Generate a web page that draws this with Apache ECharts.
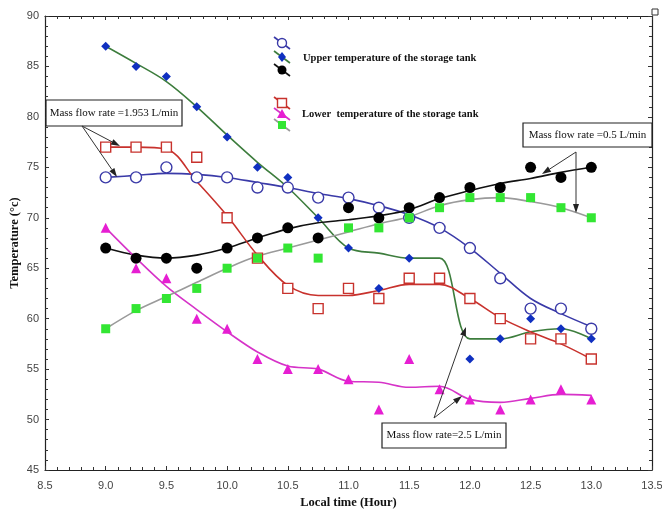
<!DOCTYPE html>
<html>
<head>
<meta charset="utf-8">
<script src="https://cdn.jsdelivr.net/npm/echarts@6/dist/echarts.min.js"></script>
<style>
  html, body { margin: 0; padding: 0; background: #fff; }
  #chart { width: 662px; height: 511px; }
</style>
</head>
<body>
<div id="chart"></div>
<script>
// local time (hour)
const times = [9.0, 9.25, 9.5, 9.75, 10.0, 10.25, 10.5, 10.75, 11.0, 11.25, 11.5, 11.75, 12.0, 12.25, 12.5, 12.75, 13.0];

// upper temperature of the storage tank
const upper1953 = [74, 74, 75, 74, 74, 73, 73, 72, 72, 71, 70, 69, 67, 64, 61, 61, 59];
const upper1953Fit = [74, 74.2, 74.4, 74.3, 74, 73.5, 73, 72.4, 71.9, 71.2, 70.3, 69, 67, 64.5, 62, 60.5, 59.2];
const upper25 = [87, 85, 84, 81, 78, 75, 74, 70, 67, 63, 66, 64, 56, 58, 60, 59, 58];
const upper25Fit = [87, 85.3, 83.5, 81, 78.2, 75.5, 73, 70, 67, 66.5, 66, 66, 58, 58, 58.7, 59, 58];
const upper05 = [67, 66, 66, 65, 67, 68, 69, 68, 71, 70, 71, 72, 73, 73, 75, 74, 75];
const upper05Fit = [67, 66.3, 66, 66.3, 67, 68, 68.9, 69.5, 69.8, 70.2, 70.8, 71.9, 72.7, 73.4, 73.9, 74.5, 75];

// lower temperature of the storage tank
const lower1953 = [77, 77, 77, 76, 70, 66, 63, 61, 63, 62, 64, 64, 62, 60, 58, 58, 56];
const lower1953Fit = [77, 77, 76.8, 73.6, 70.2, 66.3, 63.3, 62.3, 62.3, 62.8, 63.4, 63.4, 62, 60.1, 58.7, 57.5, 56];
const lower25 = [69, 65, 64, 60, 59, 56, 55, 55, 54, 51, 56, 53, 52, 51, 52, 53, 52];
const lower25Fit = [69, 66, 63.2, 60.9, 58.7, 56.7, 55.3, 55, 53.8, 53.7, 53.2, 53.3, 52, 51.7, 52.1, 52.5, 52.4];
const lower05 = [59, 61, 62, 63, 65, 66, 67, 66, 69, 69, 70, 71, 72, 72, 72, 71, 70];
const lower05Fit = [59, 60.8, 62.2, 63.6, 65, 66.2, 67, 67.8, 68.6, 69.4, 70.1, 71.2, 71.8, 72, 71.6, 71, 70];

const serif = '"Liberation Serif", "DejaVu Serif", serif';
const sans = '"Liberation Sans", Arial, sans-serif';

const pairs = arr => times.map((t, i) => [t, arr[i]]);

function fitLine(data, color) {
    return {
        type: 'line', data: pairs(data), smooth: 0.35, showSymbol: false,
        lineStyle: { color: color, width: 1.6 }, z: 2, silent: true
    };
}
function points(data, symbol, size, fill, stroke) {
    return {
        type: 'scatter', data: pairs(data), symbol: symbol, symbolSize: size,
        itemStyle: { color: fill, borderColor: stroke, borderWidth: stroke ? 1.4 : 0, opacity: 1 }, z: 3
    };
}

// arrow: line plus small filled head
function arrow(x1, y1, x2, y2) {
    const a = Math.atan2(y2 - y1, x2 - x1), L = 9, W = 3;
    const bx = x2 - L * Math.cos(a), by = y2 - L * Math.sin(a);
    return [
        { type: 'line', shape: { x1: x1, y1: y1, x2: bx, y2: by }, style: { stroke: '#333', lineWidth: 1 }, z: 10 },
        { type: 'polygon', shape: { points: [[x2, y2], [bx + W * Math.sin(a), by - W * Math.cos(a)], [bx - W * Math.sin(a), by + W * Math.cos(a)]] },
          style: { fill: '#222' }, z: 10 }
    ];
}
function box(x, y, w, h, text) {
    return [
        { type: 'rect', shape: { x: x, y: y, width: w, height: h }, style: { fill: '#fff', stroke: '#222', lineWidth: 1.2 }, z: 9 },
        { type: 'text', x: x + w / 2, y: y + h / 2, style: { text: text, font: '11px ' + serif, fill: '#111', align: 'center', verticalAlign: 'middle' }, z: 11 }
    ];
}
function legendIcon(cy, lineColor, symbol) {
    const items = [{ type: 'line', shape: { x1: 274, y1: cy - 6, x2: 290, y2: cy + 6 }, style: { stroke: lineColor, lineWidth: 1.6 }, z: 10 }];
    symbol.z = 11;
    items.push(symbol);
    return items;
}

const graphics = [].concat(
    legendIcon(43, '#3a3aa8', { type: 'circle', shape: { cx: 282, cy: 43, r: 4.5 }, style: { fill: '#fff', stroke: '#3a3aa8', lineWidth: 1.4 } }),
    legendIcon(57, '#3d7d3d', { type: 'polygon', shape: { points: [[282, 52], [286, 57], [282, 62], [278, 57]] }, style: { fill: '#1030c0' } }),
    legendIcon(70, '#111', { type: 'circle', shape: { cx: 282, cy: 70, r: 4.5 }, style: { fill: '#000' } }),
    legendIcon(103, '#c8322d', { type: 'rect', shape: { x: 277.5, y: 98.5, width: 9, height: 9 }, style: { fill: '#fff', stroke: '#c8322d', lineWidth: 1.4 } }),
    legendIcon(114, '#d633c8', { type: 'polygon', shape: { points: [[282, 109], [287, 118], [277, 118]] }, style: { fill: '#e61ed2' } }),
    legendIcon(125, '#999', { type: 'rect', shape: { x: 278, y: 121, width: 8, height: 8 }, style: { fill: '#33e633' } }),
    [
        { type: 'text', x: 303, y: 58, style: { text: 'Upper temperature of the storage tank', font: 'bold 10.5px ' + serif, fill: '#111', verticalAlign: 'middle' }, z: 11 },
        { type: 'text', x: 302, y: 114, style: { text: 'Lower  temperature of the storage tank', font: 'bold 10.5px ' + serif, fill: '#111', verticalAlign: 'middle' }, z: 11 },
        { type: 'rect', shape: { x: 652, y: 9, width: 6, height: 6 }, style: { fill: '#fff', stroke: '#333', lineWidth: 1 }, z: 11 }
    ],
    box(46, 100, 136, 26, 'Mass flow rate =1.953 L/min'),
    arrow(82, 126, 120, 146),
    arrow(82, 126, 117, 177),
    box(523, 123, 129, 24, 'Mass flow rate =0.5 L/min'),
    arrow(576, 152, 542, 174),
    arrow(576, 152, 576, 213),
    box(382, 423, 124, 25, 'Mass flow rate=2.5 L/min'),
    arrow(434, 418, 466, 327),
    arrow(434, 418, 462, 396)
);

const axisLine = { show: true, lineStyle: { color: '#222', width: 1.2 } };
const tickStyle = { lineStyle: { color: '#333' } };

const chart = echarts.init(document.getElementById('chart'));
chart.setOption({
    backgroundColor: '#fff',
    animation: false,
    grid: { left: 45, right: 10, top: 16, bottom: 41, containLabel: false, outerBoundsMode: 'none' },
    xAxis: [{
        type: 'value', min: 8.5, max: 13.5, interval: 0.5,
        name: 'Local time (Hour)', nameLocation: 'middle', nameGap: 26, nameMoveOverlap: false,
        nameTextStyle: { fontFamily: serif, fontWeight: 'bold', fontSize: 12.5, color: '#111', verticalAlign: 'top' },
        axisLine: axisLine,
        axisTick: { show: true, inside: true, length: 4, lineStyle: tickStyle.lineStyle },
        minorTick: { show: true, splitNumber: 5, length: 3, lineStyle: tickStyle.lineStyle },
        axisLabel: { formatter: v => v.toFixed(1), fontFamily: sans, fontSize: 11, color: '#444', margin: 10 },
        splitLine: { show: false }
    }, {
        type: 'value', position: 'top', min: 8.5, max: 13.5, interval: 0.5,
        axisLine: axisLine,
        axisTick: { show: true, inside: true, length: 4, lineStyle: tickStyle.lineStyle },
        minorTick: { show: true, splitNumber: 5, length: 3, lineStyle: tickStyle.lineStyle },
        axisLabel: { show: false }, splitLine: { show: false }
    }],
    yAxis: [{
        type: 'value', min: 45, max: 90, interval: 5,
        name: 'Temperature (°c)', nameLocation: 'middle', nameGap: 24, nameRotate: 90, nameMoveOverlap: false,
        nameTextStyle: { fontFamily: serif, fontWeight: 'bold', fontSize: 12.5, color: '#111', verticalAlign: 'bottom' },
        axisLine: axisLine,
        axisTick: { show: true, inside: true, length: 4, lineStyle: tickStyle.lineStyle },
        minorTick: { show: true, splitNumber: 5, length: 3, lineStyle: tickStyle.lineStyle },
        axisLabel: { fontFamily: sans, fontSize: 11, color: '#444', margin: 6 },
        splitLine: { show: false }
    }, {
        type: 'value', position: 'right', min: 45, max: 90, interval: 5,
        axisLine: axisLine,
        axisTick: { show: true, inside: true, length: 4, lineStyle: tickStyle.lineStyle },
        minorTick: { show: true, splitNumber: 5, length: 3, lineStyle: tickStyle.lineStyle },
        axisLabel: { show: false }, splitLine: { show: false }
    }],
    series: [
        fitLine(upper1953Fit, '#3a3aa8'),
        fitLine(upper25Fit, '#3d7d3d'),
        fitLine(upper05Fit, '#111111'),
        fitLine(lower1953Fit, '#c8322d'),
        fitLine(lower25Fit, '#d633c8'),
        fitLine(lower05Fit, '#9a9a9a'),
        points(upper1953, 'circle', 11, '#ffffff', '#3a3aa8'),
        points(upper25, 'diamond', 9, '#1030c0'),
        points(upper05, 'circle', 11, '#000000'),
        points(lower1953, 'rect', 10, '#ffffff', '#c8322d'),
        points(lower25, 'triangle', 10, '#e61ed2'),
        points(lower05, 'rect', 9, '#33e633')
    ],
    graphic: graphics
});
</script>
</body>
</html>
